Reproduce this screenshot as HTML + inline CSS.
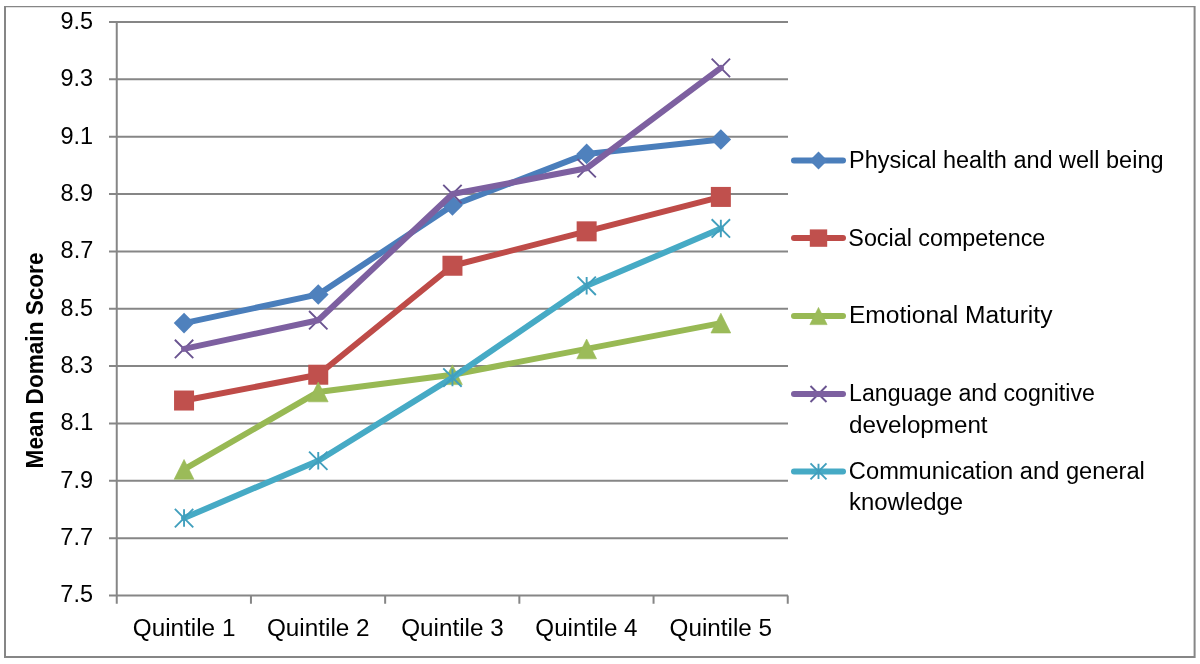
<!DOCTYPE html><html><head><meta charset="utf-8"><style>html,body{margin:0;padding:0;background:#fff;width:1200px;height:664px;overflow:hidden}svg{display:block;will-change:transform}text{font-family:"Liberation Sans",sans-serif;fill:#000}</style></head><body>
<svg width="1200" height="664" viewBox="0 0 1200 664">
<rect width="1200" height="664" fill="#fff"/>
<path d="M4 6H1195.6V7.3H4Z M4 656H1195.6V658H4Z M4 6H6V658H4Z M1193.6 6H1195.6V658H1193.6Z" fill="#868686"/>
<path d="M109 22.00H788 M109 79.35H788 M109 136.71H788 M109 194.06H788 M109 251.41H788 M109 308.76H788 M109 366.12H788 M109 423.47H788 M109 480.82H788 M109 538.18H788 M109 595.53H788" stroke="#868686" stroke-width="2" fill="none"/>
<path d="M116.75 21.00V603.7 M250.95 595.53V603.7 M385.15 595.53V603.7 M519.35 595.53V603.7 M653.55 595.53V603.7 M787.75 595.53V603.7" stroke="#868686" stroke-width="2" fill="none"/>
<text x="60.50" y="28.93" font-size="23.4" textLength="32.54" lengthAdjust="spacingAndGlyphs">9.5</text>
<text x="60.50" y="86.29" font-size="23.4" textLength="32.59" lengthAdjust="spacingAndGlyphs">9.3</text>
<text x="60.49" y="143.64" font-size="23.4" textLength="32.70" lengthAdjust="spacingAndGlyphs">9.1</text>
<text x="60.58" y="200.99" font-size="23.4" textLength="32.57" lengthAdjust="spacingAndGlyphs">8.9</text>
<text x="60.58" y="258.35" font-size="23.4" textLength="32.65" lengthAdjust="spacingAndGlyphs">8.7</text>
<text x="60.58" y="315.70" font-size="23.4" textLength="32.45" lengthAdjust="spacingAndGlyphs">8.5</text>
<text x="60.58" y="373.05" font-size="23.4" textLength="32.50" lengthAdjust="spacingAndGlyphs">8.3</text>
<text x="60.58" y="430.40" font-size="23.4" textLength="32.61" lengthAdjust="spacingAndGlyphs">8.1</text>
<text x="60.39" y="487.76" font-size="23.4" textLength="32.78" lengthAdjust="spacingAndGlyphs">7.9</text>
<text x="60.38" y="545.11" font-size="23.4" textLength="32.85" lengthAdjust="spacingAndGlyphs">7.7</text>
<text x="60.39" y="602.46" font-size="23.4" textLength="32.65" lengthAdjust="spacingAndGlyphs">7.5</text>
<text x="132.75" y="636.20" font-size="23.5" textLength="102.64" lengthAdjust="spacingAndGlyphs">Quintile 1</text>
<text x="266.95" y="636.20" font-size="23.5" textLength="102.67" lengthAdjust="spacingAndGlyphs">Quintile 2</text>
<text x="401.15" y="636.20" font-size="23.5" textLength="102.52" lengthAdjust="spacingAndGlyphs">Quintile 3</text>
<text x="535.35" y="636.20" font-size="23.5" textLength="102.15" lengthAdjust="spacingAndGlyphs">Quintile 4</text>
<text x="669.55" y="636.20" font-size="23.5" textLength="102.47" lengthAdjust="spacingAndGlyphs">Quintile 5</text>
<text transform="translate(43.3 466.9) rotate(-90)" x="-1.51" y="0" font-size="23.3" font-weight="bold" textLength="215.88" lengthAdjust="spacingAndGlyphs">Mean Domain Score</text>
<polyline points="184.05,323.10 318.25,294.43 452.45,205.53 586.65,153.91 720.85,139.57" fill="none" stroke="#4A7EBB" stroke-width="6.0" stroke-linejoin="round" stroke-linecap="round"/>
<path d="M184.05 312.80L194.35 323.10L184.05 333.40L173.75 323.10Z" fill="#4F81BD"/>
<path d="M318.25 284.13L328.55 294.43L318.25 304.73L307.95 294.43Z" fill="#4F81BD"/>
<path d="M452.45 195.23L462.75 205.53L452.45 215.83L442.15 205.53Z" fill="#4F81BD"/>
<path d="M586.65 143.61L596.95 153.91L586.65 164.21L576.35 153.91Z" fill="#4F81BD"/>
<path d="M720.85 129.27L731.15 139.57L720.85 149.87L710.55 139.57Z" fill="#4F81BD"/>
<polyline points="184.05,400.53 318.25,374.72 452.45,265.75 586.65,231.34 720.85,196.93" fill="none" stroke="#BE4B48" stroke-width="6.0" stroke-linejoin="round" stroke-linecap="round"/>
<rect x="174.05" y="390.53" width="20.00" height="20.00" fill="#C0504D"/>
<rect x="308.25" y="364.72" width="20.00" height="20.00" fill="#C0504D"/>
<rect x="442.45" y="255.75" width="20.00" height="20.00" fill="#C0504D"/>
<rect x="576.65" y="221.34" width="20.00" height="20.00" fill="#C0504D"/>
<rect x="710.85" y="186.93" width="20.00" height="20.00" fill="#C0504D"/>
<polyline points="184.05,469.35 318.25,391.93 452.45,374.72 586.65,348.91 720.85,323.10" fill="none" stroke="#98B954" stroke-width="6.0" stroke-linejoin="round" stroke-linecap="round"/>
<path d="M184.05 459.45L193.95 479.25L174.15 479.25Z" fill="#9BBB59" stroke="#9BBB59" stroke-width="0.6" stroke-linejoin="round"/>
<path d="M318.25 382.03L328.15 401.83L308.35 401.83Z" fill="#9BBB59" stroke="#9BBB59" stroke-width="0.6" stroke-linejoin="round"/>
<path d="M452.45 364.82L462.35 384.62L442.55 384.62Z" fill="#9BBB59" stroke="#9BBB59" stroke-width="0.6" stroke-linejoin="round"/>
<path d="M586.65 339.01L596.55 358.81L576.75 358.81Z" fill="#9BBB59" stroke="#9BBB59" stroke-width="0.6" stroke-linejoin="round"/>
<path d="M720.85 313.20L730.75 333.00L710.95 333.00Z" fill="#9BBB59" stroke="#9BBB59" stroke-width="0.6" stroke-linejoin="round"/>
<path d="M174.85 339.71L193.25 358.11M193.25 339.71L174.85 358.11" stroke="#6A5490" stroke-width="1.9" fill="none"/>
<path d="M309.05 311.04L327.45 329.44M327.45 311.04L309.05 329.44" stroke="#6A5490" stroke-width="1.9" fill="none"/>
<path d="M443.25 184.86L461.65 203.26M461.65 184.86L443.25 203.26" stroke="#6A5490" stroke-width="1.9" fill="none"/>
<path d="M577.45 159.05L595.85 177.45M595.85 159.05L577.45 177.45" stroke="#6A5490" stroke-width="1.9" fill="none"/>
<path d="M711.65 58.68L730.05 77.08M730.05 58.68L711.65 77.08" stroke="#6A5490" stroke-width="1.9" fill="none"/>
<polyline points="184.05,348.91 318.25,320.24 452.45,194.06 586.65,168.25 720.85,67.88" fill="none" stroke="#7D60A0" stroke-width="6.0" stroke-linejoin="round" stroke-linecap="round"/>
<polyline points="184.05,518.10 318.25,460.75 452.45,377.59 586.65,285.82 720.85,228.47" fill="none" stroke="#46AAC5" stroke-width="6.0" stroke-linejoin="round" stroke-linecap="round"/>
<path d="M174.85 508.90L193.25 527.30M193.25 508.90L174.85 527.30M184.05 509.36L184.05 526.84" stroke="#419FBD" stroke-width="1.9" fill="none"/>
<path d="M309.05 451.55L327.45 469.95M327.45 451.55L309.05 469.95M318.25 452.01L318.25 469.49" stroke="#419FBD" stroke-width="1.9" fill="none"/>
<path d="M443.25 368.39L461.65 386.79M461.65 368.39L443.25 386.79M452.45 368.85L452.45 386.33" stroke="#419FBD" stroke-width="1.9" fill="none"/>
<path d="M577.45 276.62L595.85 295.02M595.85 276.62L577.45 295.02M586.65 277.08L586.65 294.56" stroke="#419FBD" stroke-width="1.9" fill="none"/>
<path d="M711.65 219.27L730.05 237.67M730.05 219.27L711.65 237.67M720.85 219.73L720.85 237.21" stroke="#419FBD" stroke-width="1.9" fill="none"/>
<path d="M794 160.50H843" stroke="#4A7EBB" stroke-width="6.0" stroke-linecap="round"/>
<path d="M818.50 151.54L827.46 160.50L818.50 169.46L809.54 160.50Z" fill="#4F81BD"/>
<text x="848.97" y="167.90" font-size="23.5" textLength="314.54" lengthAdjust="spacingAndGlyphs">Physical health and well being</text>
<path d="M794 238.10H843" stroke="#BE4B48" stroke-width="6.0" stroke-linecap="round"/>
<rect x="809.80" y="229.40" width="17.40" height="17.40" fill="#C0504D"/>
<text x="848.34" y="245.50" font-size="23.5" textLength="197.00" lengthAdjust="spacingAndGlyphs">Social competence</text>
<path d="M794 316.00H843" stroke="#98B954" stroke-width="6.0" stroke-linecap="round"/>
<path d="M818.50 307.39L827.11 324.61L809.89 324.61Z" fill="#9BBB59" stroke="#9BBB59" stroke-width="0.6" stroke-linejoin="round"/>
<text x="848.99" y="323.40" font-size="23.5" textLength="203.46" lengthAdjust="spacingAndGlyphs">Emotional Maturity</text>
<path d="M810.50 386.00L826.50 402.00M826.50 386.00L810.50 402.00" stroke="#6A5490" stroke-width="1.9" fill="none"/>
<path d="M794 394.00H843" stroke="#7D60A0" stroke-width="6.0" stroke-linecap="round"/>
<text x="849.10" y="401.40" font-size="23.5" textLength="245.73" lengthAdjust="spacingAndGlyphs">Language and cognitive</text>
<text x="849.08" y="432.50" font-size="23.5" textLength="138.49" lengthAdjust="spacingAndGlyphs">development</text>
<path d="M794 471.40H843" stroke="#46AAC5" stroke-width="6.0" stroke-linecap="round"/>
<path d="M810.50 463.40L826.50 479.40M826.50 463.40L810.50 479.40M818.50 463.80L818.50 479.00" stroke="#419FBD" stroke-width="1.9" fill="none"/>
<text x="848.89" y="478.80" font-size="23.5" textLength="295.99" lengthAdjust="spacingAndGlyphs">Communication and general</text>
<text x="849.09" y="509.90" font-size="23.5" textLength="113.98" lengthAdjust="spacingAndGlyphs">knowledge</text>
</svg></body></html>
